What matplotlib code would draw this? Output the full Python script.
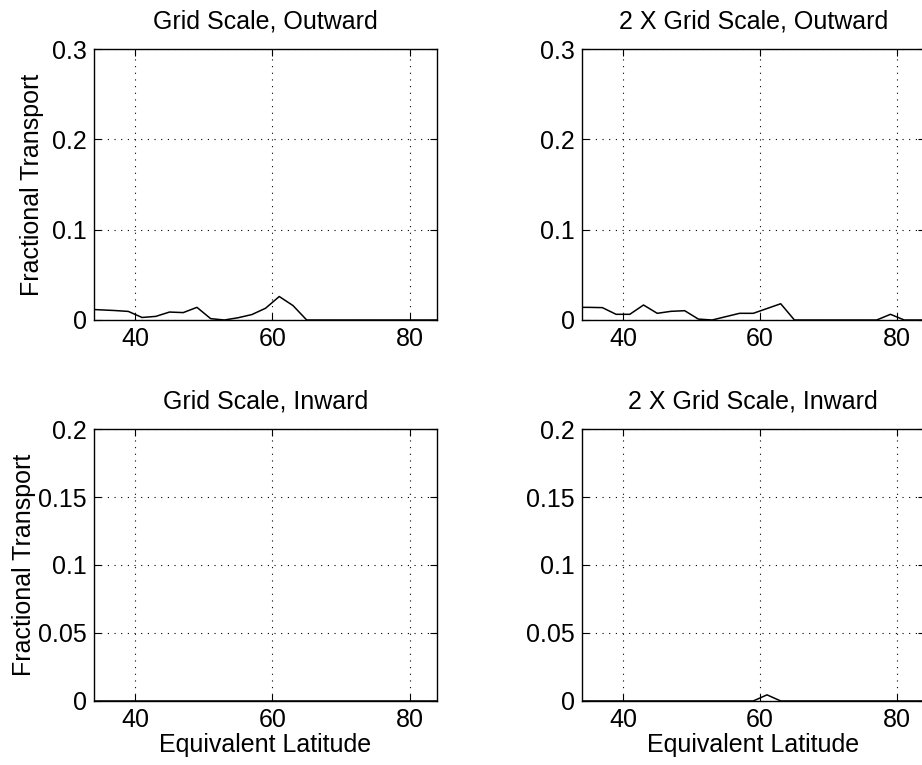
import matplotlib
matplotlib.use("Agg")
from matplotlib import pyplot as plt
from matplotlib.ticker import FormatStrFormatter

plt.rcParams['font.family'] = ['Liberation Sans', 'DejaVu Sans']
plt.rcParams['font.size'] = 18

# equivalent latitude of the bins
lat = [33, 35, 37, 39, 41, 43, 45, 47, 49, 51, 53, 55, 57, 59,
       61, 63, 65, 67, 69, 71, 73, 75, 77, 79, 81, 83, 85]

# fractional transport, grid scale outward
grid_out = [0.012, 0.0112, 0.0105, 0.0095, 0.0028, 0.004, 0.0088, 0.0082,
            0.014, 0.0015, 0.0, 0.0025, 0.006, 0.013, 0.026, 0.016, 0.0,
            0, 0, 0, 0, 0, 0, 0, 0, 0, 0]
# 2 x grid scale outward
grid2_out = [0.014, 0.014, 0.0137, 0.0063, 0.0063, 0.0166, 0.0074, 0.0096,
             0.0103, 0.001, 0.0, 0.0037, 0.0074, 0.0074, 0.0127, 0.018, 0.0,
             0, 0, 0, 0, 0, 0, 0.0063, 0, 0, 0]
# grid scale inward
grid_in = [0] * 27
# 2 x grid scale inward
grid2_in = [0, 0, 0, 0, 0, 0, 0, 0, 0, 0, 0, 0, 0, 0,
            0.0045, 0, 0, 0, 0, 0, 0, 0, 0, 0, 0, 0, 0]

titles = ['Grid Scale, Outward', '2 X Grid Scale, Outward',
          'Grid Scale, Inward', '2 X Grid Scale, Inward']
top_yticks = [0, 0.1, 0.2, 0.3]
bot_yticks = [0, 0.05, 0.1, 0.15, 0.2]
xticks = [40, 60, 80]

fig = plt.figure(figsize=(9.22, 7.65), dpi=100)
pos = [[0.102, 0.5817, 0.372, 0.3542],
       [0.631, 0.5817, 0.372, 0.3542],
       [0.102, 0.0837, 0.372, 0.3555],
       [0.631, 0.0837, 0.372, 0.3555]]
series = [grid_out, grid2_out, grid_in, grid2_in]

for i in range(4):
    ax = fig.add_axes(pos[i])
    ax.plot(lat, series[i], color='black', linewidth=1.1)
    ax.set_xlim(34, 84)
    ax.set_xticks(xticks)
    if i < 2:
        ax.set_ylim(0, 0.3)
        ax.set_yticks(top_yticks)
    else:
        ax.set_ylim(0, 0.2)
        ax.set_yticks(bot_yticks)
        ax.set_xlabel('Equivalent Latitude', labelpad=1)
    ax.yaxis.set_major_formatter(FormatStrFormatter('%g'))
    ax.set_title(titles[i], fontsize=18, pad=15)
    ax.grid(True, color='black', linestyle=(0, (1, 5)), linewidth=0.8)
    ax.tick_params(direction='in', top=True, right=True, length=5,
                   width=0.8, pad=5)
    for s in ax.spines.values():
        s.set_linewidth(1.0)
    if i == 0:
        ax.set_ylabel('Fractional Transport')
        ax.yaxis.set_label_coords(-0.145, 0.5)
    if i == 2:
        ax.set_ylabel('Fractional Transport')
        ax.yaxis.set_label_coords(-0.17, 0.5)

fig.savefig('out.png', dpi=100)
